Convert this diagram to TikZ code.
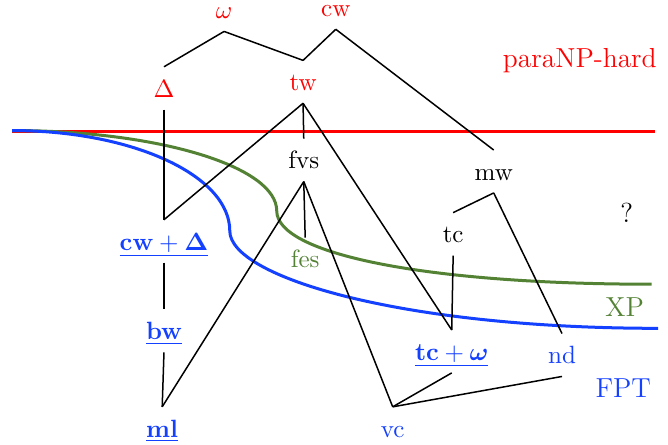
\documentclass[tikz,border=0pt]{standalone}
\usepackage{amsmath,amssymb}
\usepackage{xcolor}
\usepackage{tikz}
\definecolor{hardred}{HTML}{FF0000}
\definecolor{xpgreen}{HTML}{548235}
\definecolor{fptblue}{HTML}{1440FF}
\tikzset{
  param/.style={anchor=base, inner sep=3.33pt, text height=8.6pt, text depth=1.5pt},
  hardpar/.style={param, text=hardred},
  xppar/.style={param, text=xpgreen},
  fptpar/.style={param, text=fptblue},
  plainpar/.style={param, text=black},
  cls/.style={anchor=base, font=\fontsize{11}{13}\selectfont},
  edge/.style={draw=black, semithick},
  border/.style={very thick},
}

\begin{document}
\begin{tikzpicture}[x=1mm,y=1mm]
\useasboundingbox (0,0) rectangle (93.9,62.55);

% class borders
\draw[border,hardred] (1.7,44.1) -- (92.1,44.1);
\draw[border,xpgreen] (1.7,44.2) arc[start angle=90,end angle=0,x radius=37.2,y radius=11.3]
   .. controls +(0,-6) and +(-32,0) .. (91.6,22.6);
\draw[border,fptblue] (1.7,44.2) arc[start angle=90,end angle=0,x radius=30.6,y radius=14.1]
   .. controls +(0,-6.5) and +(-36,0) .. (92.5,16.4);

% parameters
\node[hardpar] (omega) at (31.5,59.9) {$\omega$};
\node[hardpar] (cw) at (47.2,60.2) {cw};
\node[hardpar] (delta) at (23.05,48.9) {$\Delta$};
\node[hardpar] (tw) at (42.6,49.8) {tw};
\node[plainpar] (fvs) at (42.7,38.8) {fvs};
\node[plainpar] (mw) at (69.4,37.2) {mw};
\node[plainpar] (tc) at (63.7,28.4) {tc};
\node[fptpar] (cwdelta) at (23.05,27.4) {$\underline{\mathbf{cw}+\boldsymbol{\Delta}}$};
\node[xppar] (fes) at (42.9,24.9) {fes};
\node[fptpar] (bw) at (23.05,14.8) {\underline{\textbf{bw}}};
\node[fptpar] (tcomega) at (63.5,11.9) {$\underline{\mathbf{tc}+\boldsymbol{\omega}}$};
\node[fptpar] (nd) at (79,11.4) {nd};
\node[fptpar] (ml) at (22.8,1.1) {\underline{\textbf{ml}}};
\node[fptpar] (vc) at (55.2,1.1) {vc};

% class names
\node[cls,text=hardred] (hard) at (81.5,53.1) {paraNP-hard};
\node[cls,text=xpgreen] (xp) at (87.8,18.1) {XP};
\node[cls,text=fptblue] (fpt) at (87.6,6.7) {FPT};
\node[cls] (open) at (88.1,31.3) {?};

% top zigzag
\draw[edge] (delta.north) -- (omega.south);
\draw[edge] (omega.south) -- (tw.north);
\draw[edge] (cw.south) -- (tw.north);
\draw[edge] (cw.south) -- (mw.north);
% below delta and tw
\draw[edge] (delta.south) -- (cwdelta.north);
\draw[edge] (tw.south) -- (cwdelta.north);
\draw[edge] (tw.south) -- (fvs.north);
\draw[edge] (tw.south) -- (tcomega.north);
% below fvs
\draw[edge] (fvs.south) -- (fes.north);
\draw[edge] (fvs.south) -- (ml.north);
\draw[edge] (fvs.south) -- (vc.north);
% below mw
\draw[edge] (mw.south) -- (tc.north);
\draw[edge] (mw.south) -- (nd.north);
\draw[edge] (tc.south) -- (tcomega.north);
% fpt part
\draw[edge] (cwdelta.south) -- (bw.north);
\draw[edge] (bw.south) -- (ml.north);
\draw[edge] (tcomega.south) -- (vc.north);
\draw[edge] (nd.south) -- (vc.north);
\end{tikzpicture}
\end{document}
